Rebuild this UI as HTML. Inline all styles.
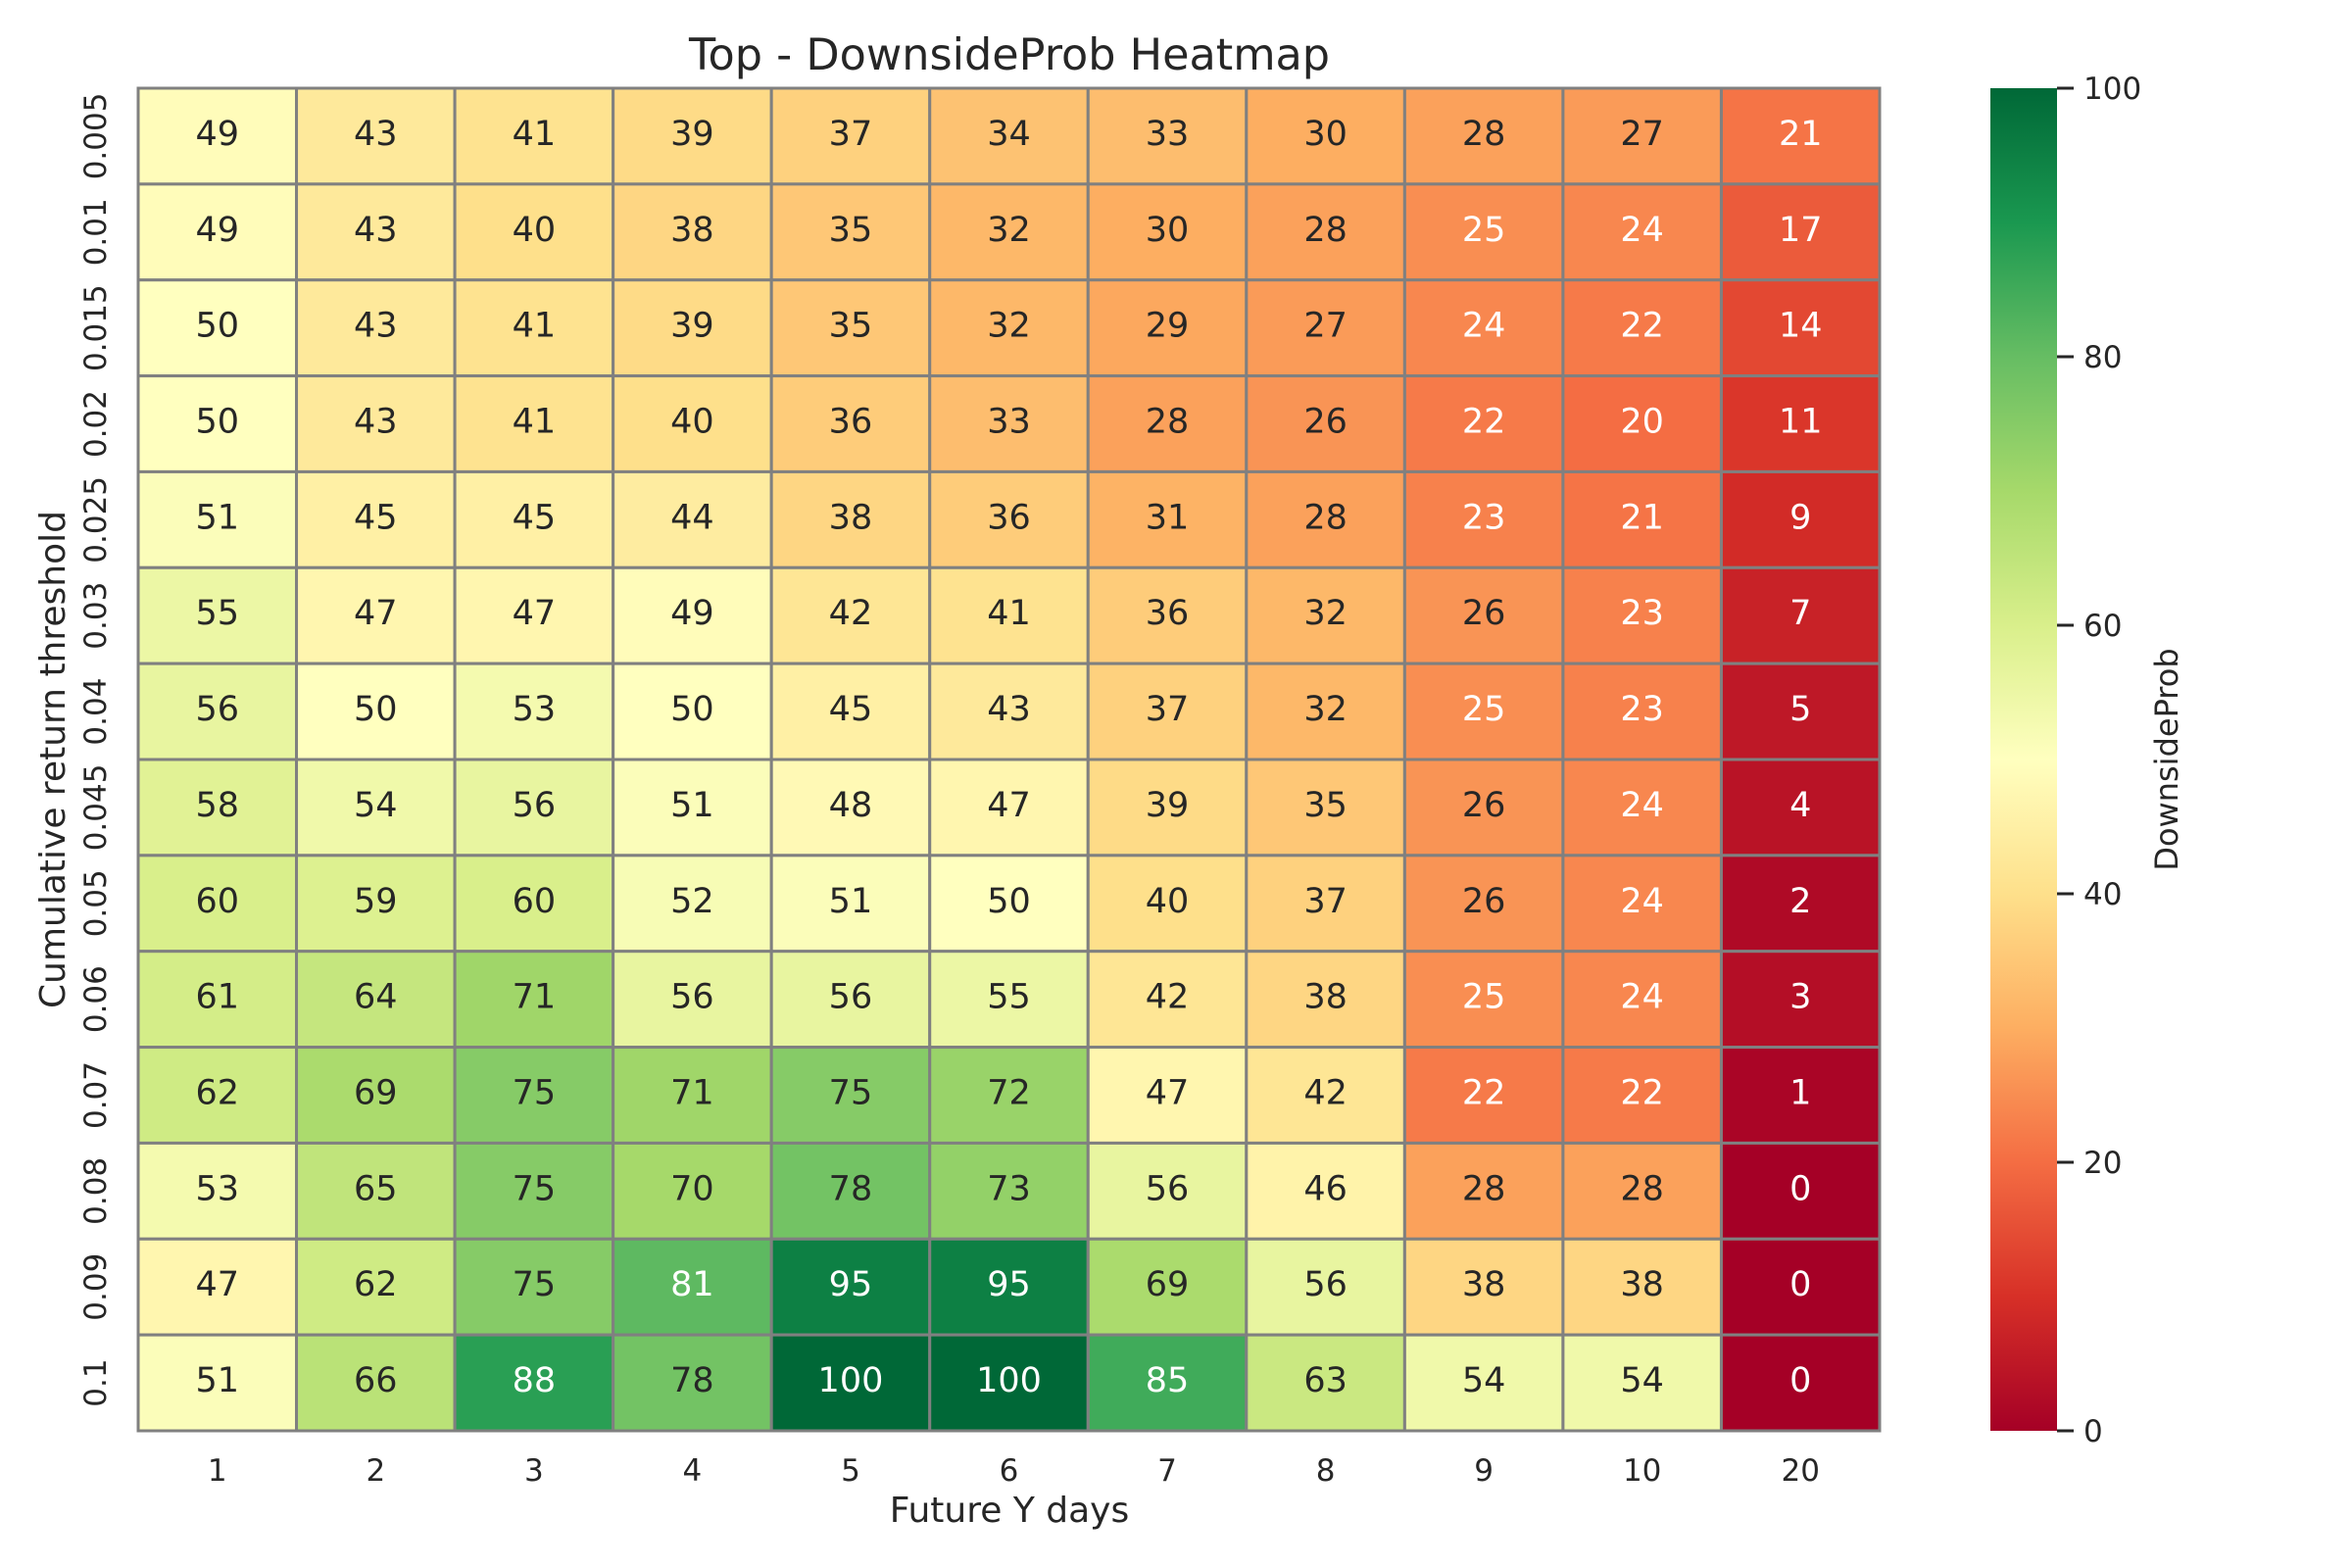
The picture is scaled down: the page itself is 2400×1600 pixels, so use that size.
<!DOCTYPE html>
<html><head><meta charset="utf-8">
<style>
html,body{margin:0;padding:0;background:#fff;}
svg{display:block;font-family:"DejaVu Sans","Liberation Sans",sans-serif;}
</style></head>
<body>
<svg id="chart" width="2400" height="1600" viewBox="0 0 2400 1600" xmlns="http://www.w3.org/2000/svg">
<defs>
<linearGradient id="cbgrad" x1="0" y1="1" x2="0" y2="0">
<stop offset="0" stop-color="#a50026"/><stop offset="0.1" stop-color="#d73027"/><stop offset="0.2" stop-color="#f46d43"/><stop offset="0.3" stop-color="#fdae61"/><stop offset="0.4" stop-color="#fee08b"/><stop offset="0.5" stop-color="#ffffbf"/><stop offset="0.6" stop-color="#d9ef8b"/><stop offset="0.7" stop-color="#a6d96a"/><stop offset="0.8" stop-color="#66bd63"/><stop offset="0.9" stop-color="#1a9850"/><stop offset="1" stop-color="#006837"/>
</linearGradient>
</defs>
<text x="1030" y="71" font-size="44.5" text-anchor="middle" fill="#262626">Top - DownsideProb Heatmap</text>
<g id="cells"></g>
<g id="xticks"></g>
<g id="yticks"></g>
<text x="1030" y="1553" font-size="36" text-anchor="middle" fill="#262626">Future Y days</text>
<text transform="translate(66,775) rotate(-90)" font-size="36" text-anchor="middle" fill="#262626">Cumulative return threshold</text>
<rect x="2031" y="90" width="68" height="1370" fill="url(#cbgrad)"/>
<g id="cbticks"></g>
<text transform="translate(2222,775) rotate(-90)" font-size="32" text-anchor="middle" fill="#262626">DownsideProb</text>
</svg>
<script>
const xCategories = ["1","2","3","4","5","6","7","8","9","10","20"];
const yCategories = ["0.005","0.01","0.015","0.02","0.025","0.03","0.04","0.045","0.05","0.06","0.07","0.08","0.09","0.1"];
const values = [
[49,43,41,39,37,34,33,30,28,27,21],
[49,43,40,38,35,32,30,28,25,24,17],
[50,43,41,39,35,32,29,27,24,22,14],
[50,43,41,40,36,33,28,26,22,20,11],
[51,45,45,44,38,36,31,28,23,21,9],
[55,47,47,49,42,41,36,32,26,23,7],
[56,50,53,50,45,43,37,32,25,23,5],
[58,54,56,51,48,47,39,35,26,24,4],
[60,59,60,52,51,50,40,37,26,24,2],
[61,64,71,56,56,55,42,38,25,24,3],
[62,69,75,71,75,72,47,42,22,22,1],
[53,65,75,70,78,73,56,46,28,28,0],
[47,62,75,81,95,95,69,56,38,38,0],
[51,66,88,78,100,100,85,63,54,54,0]
];
const cbTicks = [0,20,40,60,80,100];
const vmin = 0, vmax = 100;

const L=141, R=1918, T=90, B=1460, CBT=90, CBB=1460, CBR=2099;
const NS="http://www.w3.org/2000/svg";
const cw=(R-L)/xCategories.length, ch=(B-T)/yCategories.length;
const xPos=i=>L+i*cw, yPos=j=>T+j*ch;
const cbY=v=>CBB-(v-vmin)/(vmax-vmin)*(CBB-CBT);
const stops=["#a50026","#d73027","#f46d43","#fdae61","#fee08b","#ffffbf","#d9ef8b","#a6d96a","#66bd63","#1a9850","#006837"].map(h=>[parseInt(h.substr(1,2),16),parseInt(h.substr(3,2),16),parseInt(h.substr(5,2),16)]);
function cmap(v){let t=(v-vmin)/(vmax-vmin)*10;t=Math.max(0,Math.min(10,t));let i=Math.min(9,Math.floor(t));let f=t-i;return stops[i].map((c,k)=>Math.round(c+(stops[i+1][k]-c)*f));}
function lum(c){const l=c.map(x=>{x/=255;return x<=0.03928?x/12.92:Math.pow((x+0.055)/1.055,2.4)});return 0.2126*l[0]+0.7152*l[1]+0.0722*l[2];}
function mk(tag,attrs,parent){const e=document.createElementNS(NS,tag);for(const k in attrs)e.setAttribute(k,attrs[k]);parent.appendChild(e);return e;}
const cells=document.getElementById('cells');
values.forEach((row,j)=>row.forEach((v,i)=>{
  const c=cmap(v);
  const r=mk('rect',{x:xPos(i),y:yPos(j),width:cw,height:ch,fill:`rgb(${c})`,stroke:'#808080','stroke-width':3},cells);
  
  
  const t=mk('text',{x:xPos(i)+cw/2,y:yPos(j)+ch/2+9,'font-size':35,'text-anchor':'middle',fill:lum(c)>0.408?'#262626':'#ffffff'},cells);
  t.textContent=v;
  
  
}));
const xt=document.getElementById('xticks');
xCategories.forEach((c,i)=>{
  const t=mk('text',{x:xPos(i)+cw/2,y:1511,'font-size':31,'text-anchor':'middle',fill:'#262626'},xt);
  t.textContent=c;
  
  
});
const yt=document.getElementById('yticks');
yCategories.forEach((c,j)=>{
  const cy=yPos(j)+ch/2;
  const t=mk('text',{transform:`translate(108,${cy}) rotate(-90)`,'font-size':31,'text-anchor':'middle',fill:'#262626'},yt);
  t.textContent=c;
  
  
});
const cbt=document.getElementById('cbticks');
cbTicks.forEach(v=>{
  const y=cbY(v);
  const l=mk('line',{x1:CBR,x2:CBR+17,y1:y,y2:y,stroke:'#262626','stroke-width':3},cbt);
  
  
  const t=mk('text',{x:CBR+27,y:y+11,'font-size':31,fill:'#262626'},cbt);
  t.textContent=v;
  
  
});
</script>
</body></html>
